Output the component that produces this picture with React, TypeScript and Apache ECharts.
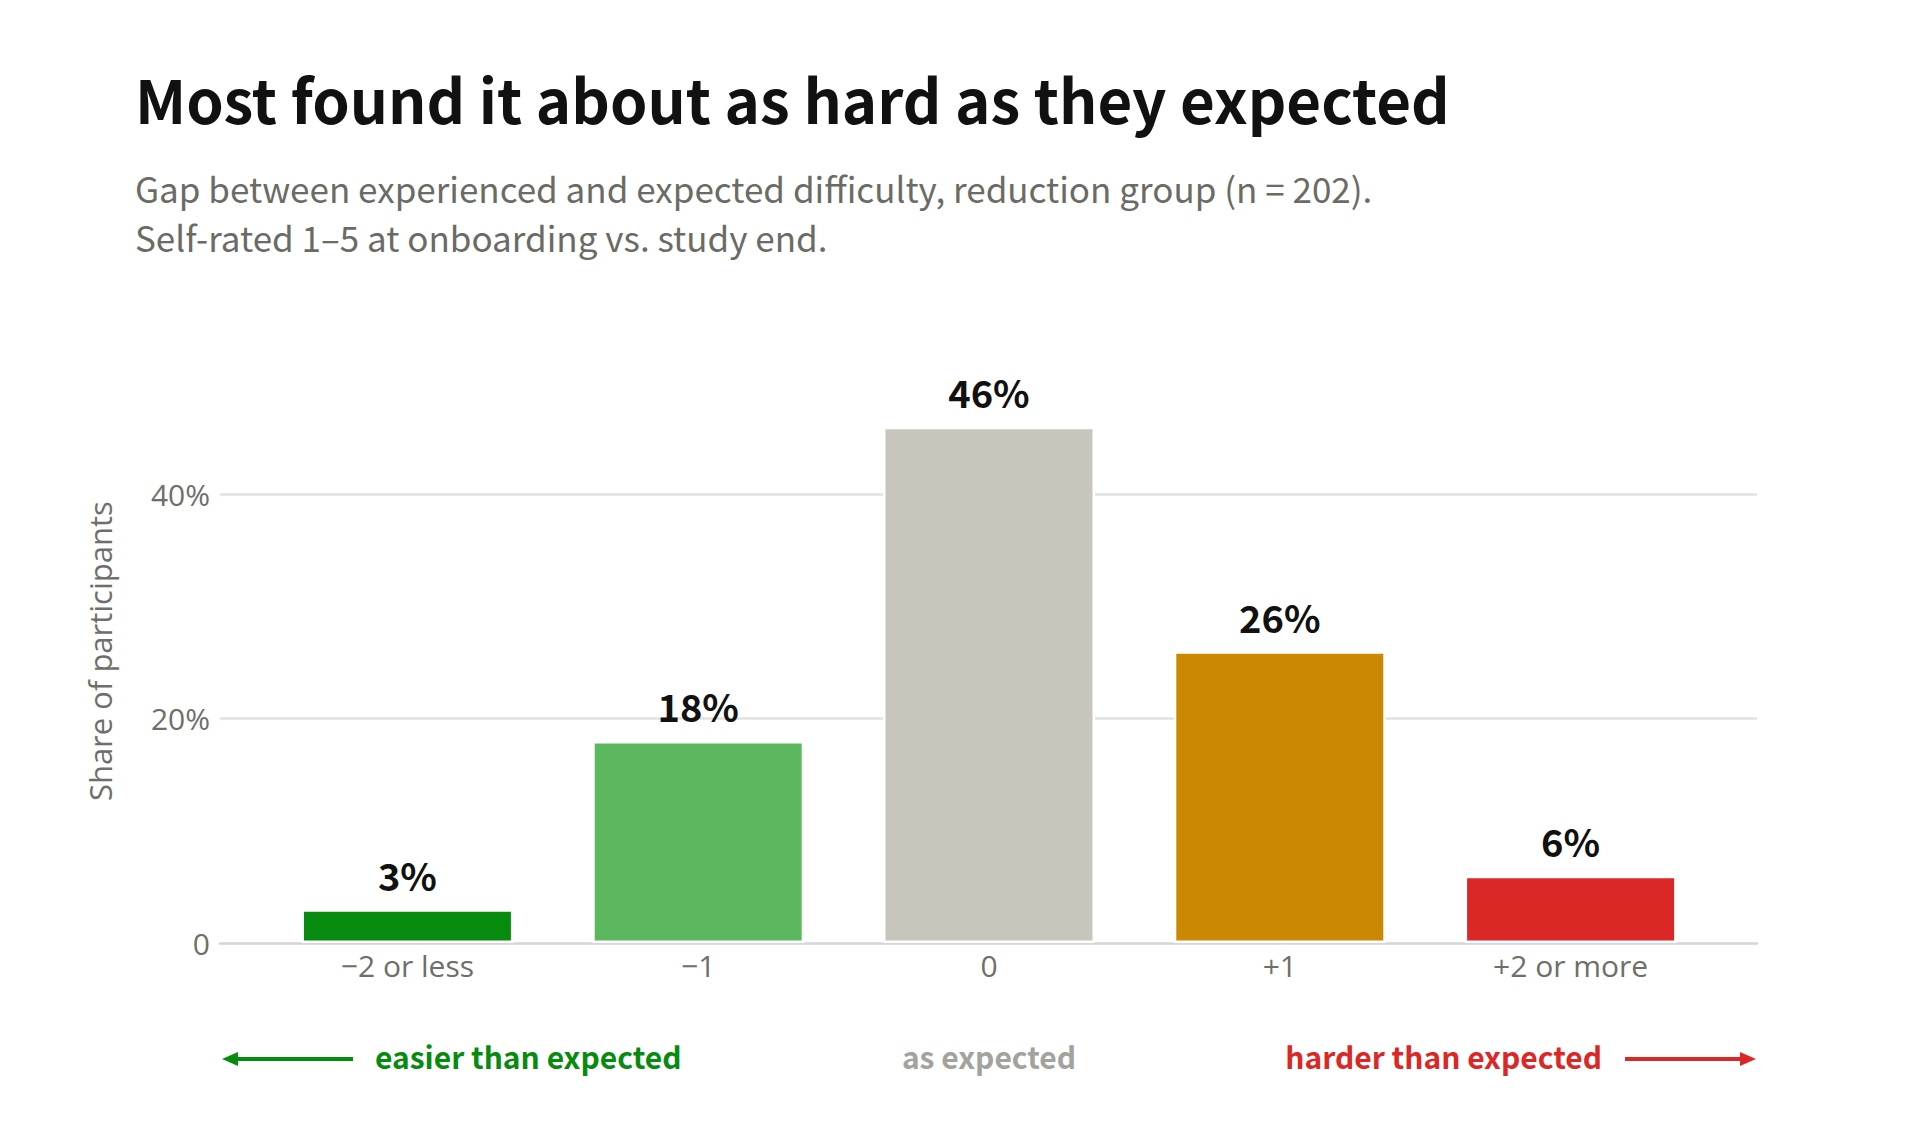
import { useEffect, useRef } from "react";
import * as echarts from "echarts";

// Difficulty gap categories (experienced minus expected) and share of participants, in %
const categories = ["−2 or less", "−1", "0", "+1", "+2 or more"];
const shares = [3, 18, 46, 26, 6];
const barColors = ["#078b0f", "#5cb85f", "#c8c5bd", "#cb8903", "#dc2727"];

const yMin = 0;
const yMax = 52;
const yInterval = 20;

const titleText = "Most found it about as hard as they expected";
const subtitleLines = [
  "Gap between experienced and expected difficulty, reduction group (n = 202).",
  "Self-rated 1–5 at onboarding vs. study end.",
];
const yAxisName = "Share of participants";

const directionLabels = {
  easier: "easier than expected",
  same: "as expected",
  harder: "harder than expected",
};

const HEAD_FONT = '"Noto Sans CJK SC", "Source Sans 3", "Source Sans Pro", sans-serif';
const AXIS_FONT = '"Open Sans", "Noto Sans", sans-serif';

const GREEN = "#078b0f";
const RED = "#dc2727";
const GREY_TEXT = "#a3a29c";
const AXIS_TEXT = "#6e6e6a";

export default function App() {
  const ref = useRef<HTMLDivElement>(null);

  useEffect(() => {
    document.body.style.margin = "0";
    if (!ref.current) return;
    const chart = echarts.init(ref.current, null, { renderer: "svg" });

    // baseline sits at y = 943; 20 points of share span 224.5 px
    const gridBottom = 183;
    const pxPerUnit = 224.5 / 20;
    const gridTop = 1126 - gridBottom - yMax * pxPerUnit;

    chart.setOption({
      animation: false,
      backgroundColor: "#ffffff",
      title: {
        left: 130,
        top: 56,
        text: titleText,
        subtext: subtitleLines.join("\n"),
        itemGap: 30,
        textStyle: {
          fontFamily: HEAD_FONT,
          fontSize: 60,
          fontWeight: "bold",
          color: "#111111",
          lineHeight: 72,
        },
        subtextStyle: {
          fontFamily: HEAD_FONT,
          fontSize: 35,
          color: "#6b6b66",
          lineHeight: 49,
        },
      },
      grid: [
        // frame for gridlines, baseline and the y scale
        { left: 220, right: 163, top: gridTop, bottom: gridBottom, containLabel: false },
        // bars, inset within the frame
        { left: 262, right: 204, top: gridTop, bottom: gridBottom, containLabel: false },
      ],
      xAxis: [
        {
          gridIndex: 0,
          type: "category",
          data: [""],
          axisLine: { show: true, lineStyle: { color: "#d5d5da", width: 2.5 } },
          axisTick: { show: false },
          axisLabel: { show: false },
          splitLine: { show: false },
        },
        {
          gridIndex: 1,
          type: "category",
          data: categories,
          axisLine: { show: false },
          axisTick: { show: false },
          axisLabel: {
            margin: 7,
            fontFamily: AXIS_FONT,
            fontSize: 30,
            color: AXIS_TEXT,
          },
        },
      ],
      yAxis: [
        {
          gridIndex: 0,
          type: "value",
          min: yMin,
          max: yMax,
          interval: yInterval,
          name: yAxisName,
          nameLocation: "middle",
          nameGap: 105,
          nameTextStyle: { fontFamily: AXIS_FONT, fontSize: 31, color: AXIS_TEXT },
          axisLine: { show: false },
          axisTick: { show: false },
          axisLabel: {
            margin: 10,
            fontFamily: AXIS_FONT,
            fontSize: 30,
            color: AXIS_TEXT,
            showMaxLabel: false,
            formatter: (v: number) => (v === 0 ? "0" : `${v}%`),
          },
          splitLine: {
            show: true,
            showMinLine: false,
            showMaxLine: false,
            lineStyle: { color: "#e2e2df", width: 2.5 },
          },
        },
        {
          gridIndex: 1,
          type: "value",
          min: yMin,
          max: yMax,
          interval: yInterval,
          show: false,
          splitLine: { show: false },
        },
      ],
      series: [
        {
          type: "bar",
          xAxisIndex: 1,
          yAxisIndex: 1,
          barWidth: 212,
          data: shares.map((v, i) => ({
            value: v,
            itemStyle: { color: barColors[i] },
          })),
          itemStyle: { borderColor: "#ffffff", borderWidth: 2.5 },
          label: {
            show: true,
            position: "top",
            distance: 16,
            formatter: "{c}%",
            fontFamily: HEAD_FONT,
            fontSize: 38,
            fontWeight: "bold",
            color: "#111111",
          },
        },
      ],
      graphic: [
        // left arrow: easier than expected
        {
          type: "line",
          shape: { x1: 234, y1: 1059, x2: 353, y2: 1059 },
          style: { stroke: GREEN, lineWidth: 4 },
        },
        {
          type: "polygon",
          shape: { points: [[222, 1059], [238, 1052], [238, 1066]] },
          style: { fill: GREEN },
        },
        {
          type: "text",
          x: 375,
          y: 1056,
          style: {
            text: directionLabels.easier,
            fontFamily: HEAD_FONT,
            fontSize: 30,
            fontWeight: 600,
            fill: GREEN,
            align: "left",
            verticalAlign: "middle",
          },
        },
        {
          type: "text",
          x: 989,
          y: 1056,
          style: {
            text: directionLabels.same,
            fontFamily: HEAD_FONT,
            fontSize: 30,
            fontWeight: 600,
            fill: GREY_TEXT,
            align: "center",
            verticalAlign: "middle",
          },
        },
        {
          type: "text",
          x: 1602,
          y: 1056,
          style: {
            text: directionLabels.harder,
            fontFamily: HEAD_FONT,
            fontSize: 30,
            fontWeight: 600,
            fill: RED,
            align: "right",
            verticalAlign: "middle",
          },
        },
        // right arrow: harder than expected
        {
          type: "line",
          shape: { x1: 1625, y1: 1059, x2: 1744, y2: 1059 },
          style: { stroke: RED, lineWidth: 4 },
        },
        {
          type: "polygon",
          shape: { points: [[1756, 1059], [1740, 1052], [1740, 1066]] },
          style: { fill: RED },
        },
      ],
    });

    return () => chart.dispose();
  }, []);

  return <div ref={ref} style={{ width: 1920, height: 1126 }} />;
}
